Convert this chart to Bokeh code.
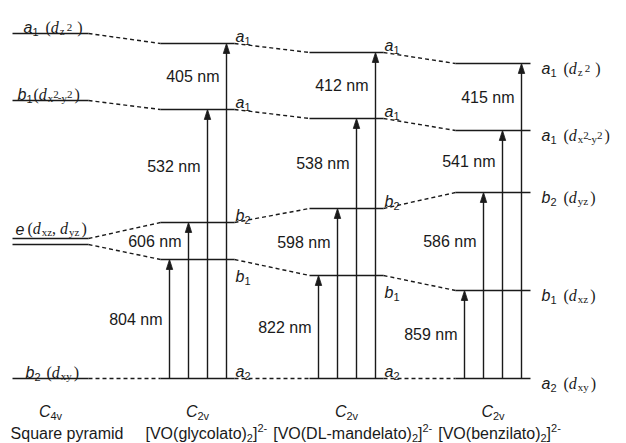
from bokeh.plotting import figure
from bokeh.models import Range1d
from bokeh.core.properties import value
from bokeh.embed import file_html
from bokeh.resources import INLINE

# ---------------- data (schematic energies, arbitrary units above the ground level) ----------------
c4v_symmetry = ["b2", "e", "b1", "a1"]
c4v_orbitals = ["dxy", "dxz, dyz", "dx2-y2", "dz2"]
c4v_energy = [0, 137, 278, 345]
c4v_name = "Square pyramid"
c4v_group = ("C", "4v")

c2v_symmetry = ["a2", "b1", "b2", "a1", "a1"]
c2v_orbitals = ["dxy", "dxz", "dyz", "dx2-y2", "dz2"]
c2v_group = ("C", "2v")
complex_names = ["glycolato", "DL-mandelato", "benzilato"]
glycolato_energy = [0, 119, 156, 269, 335]
mandelato_energy = [0, 103, 170, 260, 326]
benzilato_energy = [0, 88, 186, 248, 315]
glycolato_nm = [804, 606, 532, 405]
mandelato_nm = [822, 598, 538, 412]
benzilato_nm = [859, 586, 541, 415]

energies = [glycolato_energy, mandelato_energy, benzilato_energy]
wavelengths = [glycolato_nm, mandelato_nm, benzilato_nm]

# ---------------- layout / style ----------------
INK = "#1a1a1a"
LW = 1.4
DASH = "4 3"
E_SPLIT = 3
LEFT = (12, 88)
COLS = [(160, 234), (309, 383), (455, 530)]
ARROW_DX = [9, 28, 47, 66]
LEFT_LABEL_X = {"a1": 23, "b1": 17, "e": 15, "b2": 25}
LEFT_PRE = {"a1": 7, "b1": 1, "e": 3, "b2": 6}

p = figure(width=626, height=443, x_range=Range1d(0, 626), y_range=Range1d(-65, 378),
           output_backend="svg", toolbar_location=None, x_axis_type=None, y_axis_type=None,
           min_border=0, outline_line_color=None, background_fill_color="white")
p.xgrid.visible = False
p.ygrid.visible = False

SANS_W = {c: 0.556 for c in "0123456789"}
SANS_W.update({" ": 0.278, "a": 0.556, "b": 0.556, "c": 0.5, "d": 0.556, "e": 0.556, "g": 0.556,
               "i": 0.222, "l": 0.222, "m": 0.833, "n": 0.556, "o": 0.556, "p": 0.556, "q": 0.556,
               "r": 0.333, "s": 0.5, "t": 0.278, "u": 0.556, "v": 0.5, "y": 0.5, "z": 0.5,
               "S": 0.667, "V": 0.667, "O": 0.778, "D": 0.722, "L": 0.556, "C": 0.722,
               "[": 0.278, "]": 0.278, "(": 0.333, ")": 0.333, "-": 0.333, ",": 0.278})
SERIF_W = {"(": 0.333, ")": 0.333, "d": 0.5, "x": 0.5, "y": 0.5, "z": 0.444, "2": 0.5,
           "-": 0.333, ",": 0.25, " ": 0.25}
KINDS = {
    "sym": ("Liberation Sans", "italic", 16, 0),
    "sub": ("Liberation Sans", "normal", 11, -4),
    "sup": ("Liberation Sans", "normal", 11, 6),
    "sans": ("Liberation Sans", "normal", 16, 0),
    "par": ("Liberation Serif", "normal", 16, 0),
    "d": ("Liberation Serif", "italic", 16, 0),
    "ssub": ("Liberation Serif", "normal", 11, -3),
    "ssup": ("Liberation Serif", "normal", 11, 0),
}
texts = {k: dict(x=[], y=[], text=[]) for k in KINDS}


def width(txt, kind):
    fam, _, size, _ = KINDS[kind]
    table = SANS_W if "Sans" in fam else SERIF_W
    return sum(table.get(c, 0.5) for c in txt) * size


def rich(x, y, segs):
    for txt, kind, pre in segs:
        x += pre
        texts[kind]["x"].append(x)
        texts[kind]["y"].append(y + KINDS[kind][3])
        texts[kind]["text"].append(txt)
        x += width(txt, kind)
    return x


def sym_segs(sym):
    return [(sym[0], "sym", 0)] + ([(sym[1:], "sub", 0)] if len(sym) > 1 else [])


def orbital_segs(orb):
    segs = [("(", "par", 0)]
    for k, part in enumerate(orb.split(", ")):
        if k:
            segs.append((",", "par", 0))
        segs.append(("d", "d", 0 if k == 0 else 4))
        sub = part[1:]
        if sub == "z2":
            segs += [("z", "ssub", 1), ("2", "ssup", 2)]
        elif sub == "x2-y2":
            segs += [("x", "ssub", 1), ("2", "ssup", 0), ("-", "ssub", -1),
                     ("y", "ssub", 0), ("2", "ssup", 0)]
        else:
            segs += [(sub, "ssub", 1)]
    segs.append((")", "par", 5 if orb == "dz2" else 2))
    return segs


# ---------------- level lines ----------------
sx0, sx1, sy = [], [], []
dx0, dy0, dx1, dy1 = [], [], [], []

c4v_ends = []
for sym, E in zip(c4v_symmetry, c4v_energy):
    ys = [E - E_SPLIT, E + E_SPLIT] if sym == "e" else [E]
    for yv in ys:
        sx0.append(LEFT[0]); sx1.append(LEFT[1]); sy.append(yv)
    c4v_ends += ys

prev_x, prev_y = LEFT[1], c4v_ends
for (xa, xb), levels in zip(COLS, energies):
    for E, Ep in zip(levels, prev_y):
        sx0.append(xa); sx1.append(xb); sy.append(E)
        dx0.append(prev_x); dy0.append(Ep); dx1.append(xa); dy1.append(E)
    prev_x, prev_y = xb, levels

p.segment(x0=sx0, y0=sy, x1=sx1, y1=sy, line_color=INK, line_width=LW)
p.segment(x0=dx0, y0=dy0, x1=dx1, y1=dy1, line_color=INK, line_width=LW, line_dash=DASH)

# ---------------- transition arrows ----------------
ax, ay0, ay1, hx, hy = [], [], [], [], []
HEAD_L, HEAD_W = 10, 3.2
for (xa, xb), levels, nms in zip(COLS, energies, wavelengths):
    for i, nm in enumerate(nms):
        x = xa + ARROW_DX[i]
        top = levels[i + 1]
        ax.append(x); ay0.append(levels[0]); ay1.append(top - HEAD_L + 1)
        hx.append([x - HEAD_W, x, x + HEAD_W]); hy.append([top - HEAD_L, top, top - HEAD_L])
        p.text(x=[x - 7], y=[(top + levels[i]) / 2], text=[f"{nm} nm"],
               text_font=value("Liberation Sans"), text_font_size=value("16px"),
               text_align="right", text_baseline="middle", text_color=INK)
p.segment(x0=ax, y0=ay0, x1=ax, y1=ay1, line_color=INK, line_width=LW)
p.patches(xs=hx, ys=hy, fill_color=INK, line_color=INK, line_width=0.8)

# ---------------- level labels ----------------
for sym, orb, E in zip(c4v_symmetry, c4v_orbitals, c4v_energy):
    yb = E + E_SPLIT + 10 if sym == "e" else E + 6
    segs = sym_segs(sym)
    orb_segs = orbital_segs(orb)
    orb_segs[0] = (orb_segs[0][0], orb_segs[0][1], LEFT_PRE[sym])
    rich(LEFT_LABEL_X[sym], yb, segs + orb_segs)

for ci, ((xa, xb), levels) in enumerate(zip(COLS, energies)):
    for sym, orb, E in zip(c2v_symmetry, c2v_orbitals, levels):
        if ci < 2:
            yb = E - 17 if sym == "b1" else E + 7
            rich(xb + 1, yb, sym_segs(sym))
        else:
            orb_segs = orbital_segs(orb)
            orb_segs[0] = (orb_segs[0][0], orb_segs[0][1], 7)
            rich(xb + 11, E - 5, sym_segs(sym) + orb_segs)

# ---------------- point groups ----------------
group_segs = lambda g: [(g[0], "sym", 0), (g[1], "sub", 0)]
for (xa, xb), g in [(LEFT, c4v_group)] + [(c, c2v_group) for c in COLS]:
    w = width(g[0], "sym") + width(g[1], "sub")
    rich((xa + xb) / 2 - w / 2, -33, group_segs(g))

# ---------------- compound names ----------------
p.text(x=[123], y=[-55], text=[c4v_name], text_font=value("Liberation Sans"),
       text_font_size=value("16px"), text_align="right", text_baseline="alphabetic", text_color=INK)
x = 145
for name in complex_names:
    x = rich(x, -55, [(f"[VO({name})", "sans", 0), ("2", "sub", 0), ("]", "sans", 0), ("2-", "sup", 0)])
    x += 6

for kind, d in texts.items():
    if not d["x"]:
        continue
    fam, style, size, _ = KINDS[kind]
    p.text(x=d["x"], y=d["y"], text=d["text"], text_font=value(fam), text_font_style=style,
           text_font_size=value(f"{size}px"), text_align="left", text_baseline="alphabetic",
           text_color=INK)

open("out.html", "w").write(file_html(p, INLINE))
